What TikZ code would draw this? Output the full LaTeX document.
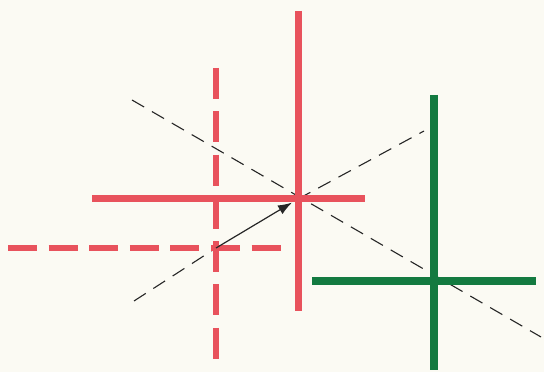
\documentclass[tikz,border=0pt]{standalone}
\usetikzlibrary{arrows.meta,positioning}
\definecolor{crossred}{HTML}{E8525C}
\definecolor{crossgreen}{HTML}{137A40}
\definecolor{paper}{HTML}{FBFAF3}

\begin{document}
\begin{tikzpicture}[x=1pt,y=-1pt,
  redline/.style={crossred,line width=7pt},
  ghostline/.style={crossred,line width=6.5pt,dash pattern=on 29pt off 11.6pt},
  greenline/.style={crossgreen,line width=7.5pt},
  guide/.style={black!85,line width=1.1pt,dash pattern=on 14pt off 9pt}]
\fill[paper] (0,0) rectangle (544,372);
% centres of the three crosses
\coordinate (old) at (216,248);
\coordinate (new) at (298,199);
\coordinate (grn) at (434,281);
% ends of the guide lines
\coordinate (dscA) at (132,100);
\coordinate (dscB) at (541,337);
\coordinate (ascA) at (134,301);
\coordinate (ascB) at (424,131);
% guide lines
\draw[guide] (dscA) -- (dscB);
\draw[guide] (ascA) -- (old);
\draw[guide] (new) -- (ascB);
% old position (dashed)
\draw[ghostline,dash pattern=on 31pt off 12.3pt] ([yshift=180pt]old) -- ([yshift=-111pt]old);
\draw[ghostline] ([xshift=-208pt]old) -- ([xshift=65pt]old);
% new position
\draw[redline] ([yshift=188pt]new) -- ([yshift=-112pt]new);
\draw[redline] ([xshift=-206pt]new) -- ([xshift=67pt]new);
% green cross
\draw[greenline] ([yshift=186pt]grn) -- ([yshift=-89pt]grn);
\draw[greenline] ([xshift=-122pt]grn) -- ([xshift=102pt]grn);
% displacement
\draw[black!85,line width=1.2pt,-{Latex[length=14pt,width=10pt]},shorten >=7pt] (old) -- (new);
\end{tikzpicture}
\end{document}
